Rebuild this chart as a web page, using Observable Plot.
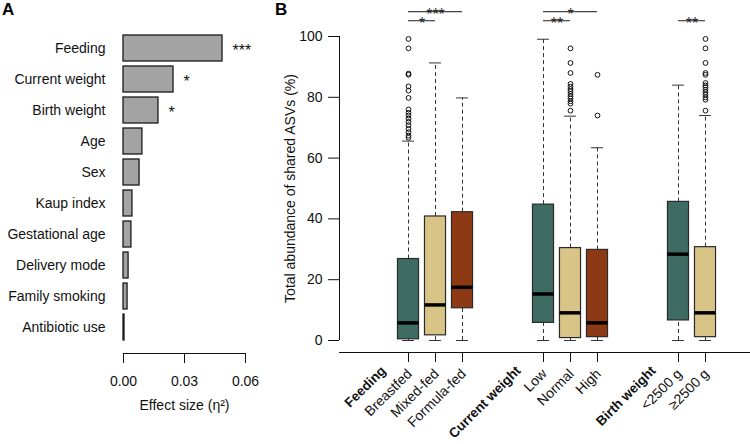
<!DOCTYPE html>
<html>
<head>
<meta charset="utf-8">
<script src="https://cdn.jsdelivr.net/npm/d3@7"></script>
<script src="https://cdn.jsdelivr.net/npm/@observablehq/plot@0.6"></script>
<style>
  body { margin: 0; background: #fff; font-family: "Liberation Sans", Arial, sans-serif; }
  #wrap { position: relative; width: 750px; height: 444px; overflow: hidden; }
  .panel { position: absolute; top: 0; }
  .tag { position: absolute; font-weight: bold; font-size: 17px; color: #000; }
</style>
</head>
<body>
<div id="wrap">
  <div id="pa" class="panel" style="left:0px;"></div>
  <div id="pb" class="panel" style="left:270px;"></div>
  <div class="tag" style="left:2px; top:0px;">A</div>
  <div class="tag" style="left:275px; top:0px;">B</div>
</div>
<script>
// ---------- Panel A data ----------
const factors = ["Feeding","Current weight","Birth weight","Age","Sex","Kaup index","Gestational age","Delivery mode","Family smoking","Antibiotic use"];
const effectSize = [0.0487,0.0246,0.0172,0.0093,0.0079,0.0044,0.0039,0.0025,0.0020,0.0005];
const effectSig = ["***","*","*","","","","","","",""];
const effectTicks = [0, 0.03, 0.06];

// ---------- Panel B data ----------
const groupNames = ["Feeding","Current weight","Birth weight"];
const groupSlots = [-1, 4, 9];
const boxNames = ["Breastfed","Mixed-fed","Formula-fed","Low","Normal","High","<2500 g","≥2500 g"];
const boxSlots = [0,1,2,5,6,7,10,11];
const boxTier = ["t1","t2","t3","t1","t2","t3","t1","t2"];
const boxMin = [0,0,0,0,0,0,0,0];
const boxQ1  = [0.4,1.7,10.6,5.8,0.8,1.1,6.6,1.1];
const boxMed = [5.8,11.7,17.5,15.3,9.1,5.8,28.4,9.1];
const boxQ3  = [26.8,40.8,42.2,44.7,30.4,29.8,45.6,30.7];
const boxMax = [65.6,91.3,79.8,99.1,73.8,63.4,84.0,74.0];
const outBreastfed = [99.2,96.1,87.8,87.4,83.6,82.2,79.8,76.0,74.9,74.0,73.0,71.9,70.8,69.6,68.5,67.4,66.7];
const outNormal = [96.1,91.3,88.0,84.4,83.5,82.7,82.0,81.1,80.3,79.6,78.7,77.9,75.6];
const outHigh = [87.4,74.0];
const outBW2500 = [99.2,96.1,91.3,88.0,87.4,84.7,83.9,83.3,82.5,81.7,80.9,80.0,79.2,75.6];
const yTicks = [0,20,40,60,80,100];
const sigFrom = ["Breastfed","Breastfed","Low","Low","<2500 g"];
const sigTo = ["Formula-fed","Mixed-fed","High","Normal","≥2500 g"];
const sigText = ["***","*","*","**","**"];
const sigRow = [2,1,2,1,1];

const tierColors = ["#3e6b62","#d9c487","#8d3a14"];
const font = "Liberation Sans, Arial, sans-serif";

// ---------- Panel A ----------
const aData = factors.map((name, i) => ({name, eta: effectSize[i], sig: effectSig[i]}));
const plotA = Plot.plot({
  width: 270, height: 444,
  marginLeft: 123, marginRight: 25, marginTop: 30, marginBottom: 91,
  insetBottom: 8,
  style: {fontFamily: font, fontSize: "14px", color: "#111", background: "transparent"},
  x: {domain: [0, 0.06]},
  y: {domain: factors, padding: 0.16},
  marks: [
    Plot.barX(aData, {x: "eta", y: "name", fill: "#a3a3a3", stroke: "#1a1a1a", strokeWidth: 1.3}),
    Plot.text(aData.filter(d => d.sig), {x: "eta", y: "name", text: "sig", textAnchor: "start", dx: 10, dy: 2, fontSize: 16, fill: "#111"}),
    Plot.frame({anchor: "bottom", stroke: "#111"}),
    Plot.axisY({tickSize: 0, tickPadding: 18, label: null, fontSize: 14}),
    Plot.axisX({ticks: effectTicks, tickFormat: ".2f", tickSize: 10, tickPadding: 13, label: null, fontSize: 14}),
    Plot.text(["Effect size (η²)"], {frameAnchor: "bottom", dy: 52, textAnchor: "middle", lineAnchor: "middle", fontSize: 14})
  ]
});
document.getElementById("pa").append(plotA);

// ---------- Panel B ----------
const slotOf = Object.fromEntries(boxNames.map((n, i) => [n, boxSlots[i]]));
const boxes = boxNames.map((name, i) => ({
  name, slot: boxSlots[i], tier: boxTier[i],
  min: boxMin[i], q1: boxQ1[i], med: boxMed[i], q3: boxQ3[i], max: boxMax[i]
}));
const outliers = [
  ...outBreastfed.map(v => ({slot: slotOf["Breastfed"], v})),
  ...outNormal.map(v => ({slot: slotOf["Normal"], v})),
  ...outHigh.map(v => ({slot: slotOf["High"], v})),
  ...outBW2500.map(v => ({slot: slotOf["≥2500 g"], v}))
];
const sigs = sigText.map((t, i) => ({x1: slotOf[sigFrom[i]], x2: slotOf[sigTo[i]], row: sigRow[i], t}));
const groups = groupNames.map((name, i) => ({name, slot: groupSlots[i]}));

const boxHalf = 0.39, capHalf = 0.22;
const xMin = -2.556, xMax = 12.667;

const plotB = Plot.plot({
  width: 480, height: 444,
  marginLeft: 69, marginRight: 0, marginTop: 36, marginBottom: 92,
  insetBottom: 12,
  style: {fontFamily: font, fontSize: "14px", color: "#111", background: "transparent"},
  x: {domain: [xMin, xMax]},
  y: {domain: [0, 100]},
  color: {domain: ["t1","t2","t3"], range: tierColors},
  marks: [
    // whiskers
    Plot.ruleX(boxes, {x: "slot", y1: "q3", y2: "max", stroke: "#333", strokeDasharray: "4,3"}),
    Plot.ruleX(boxes, {x: "slot", y1: "min", y2: "q1", stroke: "#333", strokeDasharray: "4,3"}),
    Plot.ruleY(boxes, {y: "max", x1: d => d.slot - capHalf, x2: d => d.slot + capHalf, stroke: "#333"}),
    Plot.ruleY(boxes, {y: "min", x1: d => d.slot - capHalf, x2: d => d.slot + capHalf, stroke: "#333"}),
    // boxes
    Plot.rect(boxes, {x1: d => d.slot - boxHalf, x2: d => d.slot + boxHalf, y1: "q1", y2: "q3", fill: "tier", stroke: "#2a2a2a", strokeWidth: 1.2}),
    Plot.ruleY(boxes, {y: "med", x1: d => d.slot - boxHalf, x2: d => d.slot + boxHalf, stroke: "#000", strokeWidth: 3.5}),
    // outliers
    Plot.dot(outliers, {x: "slot", y: "v", r: 2.4, stroke: "#111", strokeWidth: 1, fill: "none"}),
    // significance brackets
    Plot.ruleY(sigs, {x1: "x1", x2: "x2", y: d => 102.2 + 3 * d.row, stroke: "#444", strokeWidth: 1.2}),
    Plot.text(sigs, {x: d => (d.x1 + d.x2) / 2, y: d => 102.2 + 3 * d.row, text: "t", dy: 3, fontSize: 16, fill: "#222"}),
    // axes
    Plot.ruleX([xMin], {y1: 0, y2: 100, stroke: "#111"}),
    Plot.axisY({ticks: yTicks, tickSize: 11, tickPadding: 6, label: null, fontSize: 14}),
    Plot.frame({anchor: "bottom", stroke: "#111"}),
    Plot.axisX({ticks: boxSlots, tickSize: 10, tickFormat: () => "", label: null}),
    Plot.text(boxes, {x: "slot", text: "name", frameAnchor: "bottom", dy: 19, dx: 1, rotate: -45, textAnchor: "end", lineAnchor: "middle", fontSize: 14}),
    Plot.text(groups, {x: "slot", text: "name", frameAnchor: "bottom", dy: 16, dx: 2, rotate: -45, textAnchor: "end", lineAnchor: "middle", fontSize: 13.5, fontWeight: "bold"}),
    Plot.text(["Total abundance of shared ASVs (%)"], {frameAnchor: "left", dx: -49, dy: -6, rotate: -90, textAnchor: "middle", lineAnchor: "middle", fontSize: 14})
  ]
});
document.getElementById("pb").append(plotB);
</script>
</body>
</html>
